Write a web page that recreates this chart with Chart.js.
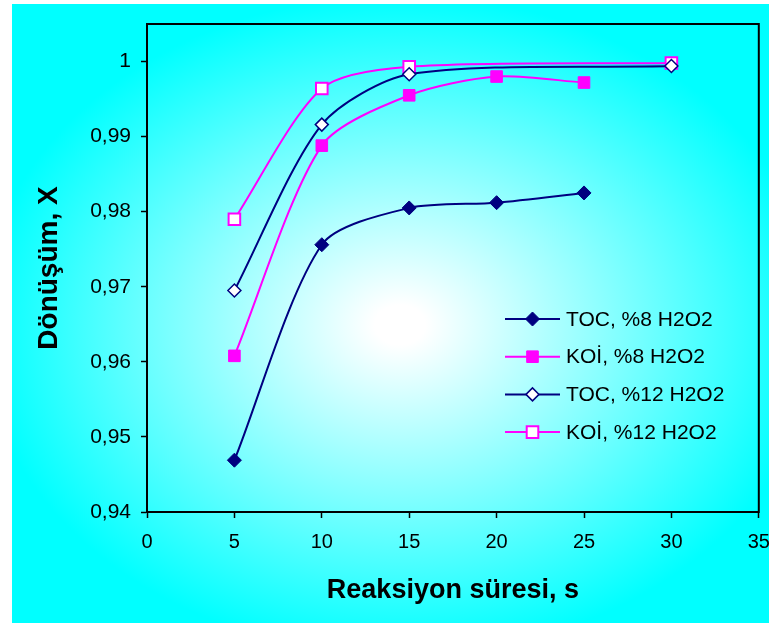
<!DOCTYPE html>
<html>
<head>
<meta charset="utf-8">
<script src="https://cdn.jsdelivr.net/npm/chart.js@4/dist/chart.umd.min.js"></script>
<style>
  html, body { margin: 0; padding: 0; background: #fff; }
  canvas { display: block; }
</style>
</head>
<body>
<canvas id="chart" width="769" height="623"></canvas>
<script>
// values
const seriesLabels = ["TOC, %8 H2O2", "KOİ, %8 H2O2", "TOC, %12 H2O2", "KOİ, %12 H2O2"];
const times8 = [5, 10, 15, 20, 25];
const times12 = [5, 10, 15, 30];
const toc8 = [0.9469, 0.9756, 0.9805, 0.9812, 0.9825];
const koi8 = [0.9608, 0.9888, 0.9955, 0.998, 0.9972];
const toc12 = [0.9695, 0.9916, 0.9983, 0.9994];
const koi12 = [0.979, 0.9964, 0.9993, 0.9998];
const xTitle = "Reaksiyon süresi, s";
const yTitle = "Dönüşüm, X";

const NAVY = "#000080";
const MAGENTA = "#ff00ff";
const FONT = "'Liberation Sans', Arial, sans-serif";

Chart.defaults.font.family = FONT;
Chart.defaults.color = "#000";

function points(xs, ys) {
  return xs.map((x, i) => ({ x, y: ys[i] }));
}

function formatTick(value) {
  return String(Number(value.toFixed(2))).replace(".", ",");
}

// white frame + elliptical gradient behind everything
const backdrop = {
  id: "backdrop",
  beforeDraw(chart) {
    const { ctx, width, height } = chart;
    ctx.save();
    ctx.fillStyle = "#fff";
    ctx.fillRect(0, 0, width, height);
    const cx = 400;
    const cy = 325;
    const rx = 420;
    const ry = 330;
    ctx.translate(cx, cy);
    ctx.scale(1, ry / rx);
    const grad = ctx.createRadialGradient(0, 0, 0, 0, 0, rx);
    grad.addColorStop(0, "#ffffff");
    grad.addColorStop(0.06, "#ffffff");
    grad.addColorStop(1, "#00ffff");
    ctx.fillStyle = grad;
    const k = rx / ry;
    ctx.fillRect(12 - cx, (4 - cy) * k, width - 12, (height - 4) * k);
    ctx.restore();
  },
};

// black box round the plot area
const plotFrame = {
  id: "plotFrame",
  beforeDatasetsDraw(chart) {
    const { ctx, chartArea: a } = chart;
    ctx.save();
    ctx.strokeStyle = "#000";
    ctx.lineWidth = 2;
    ctx.strokeRect(a.left, a.top, a.right - a.left, a.bottom - a.top);
    ctx.restore();
  },
};

// Excel-style legend: line with marker in the middle
const lineLegend = {
  id: "lineLegend",
  afterDraw(chart) {
    const { ctx } = chart;
    const x0 = 505;
    const x1 = 560;
    const y0 = 319;
    const gap = 37.7;
    ctx.save();
    chart.data.datasets.forEach((ds, i) => {
      const y = y0 + i * gap;
      ctx.strokeStyle = ds.borderColor;
      ctx.lineWidth = 2;
      ctx.beginPath();
      ctx.moveTo(x0, y);
      ctx.lineTo(x1, y);
      ctx.stroke();
      ctx.fillStyle = ds.pointBackgroundColor;
      ctx.strokeStyle = ds.pointBorderColor;
      ctx.lineWidth = ds.pointBorderWidth;
      Chart.helpers.drawPoint(ctx, {
        pointStyle: ds.pointStyle,
        radius: ds.pointRadius,
        borderWidth: ds.pointBorderWidth,
        rotation: 0,
      }, (x0 + x1) / 2, y);
      ctx.fillStyle = "#000";
      ctx.font = "21px " + FONT;
      ctx.textAlign = "left";
      ctx.textBaseline = "middle";
      ctx.fillText(ds.label, x1 + 6, y + 1);
    });
    ctx.restore();
  },
};

function series(label, data, color, style, radius, fill, borderWidth) {
  return {
    label,
    data,
    borderColor: color,
    borderWidth: 2,
    tension: 0.27,
    pointStyle: style,
    pointRadius: radius,
    pointHoverRadius: radius,
    pointBackgroundColor: fill,
    pointBorderColor: color,
    pointBorderWidth: borderWidth,
  };
}

new Chart(document.getElementById("chart"), {
  type: "line",
  data: {
    datasets: [
      series(seriesLabels[0], points(times8, toc8), NAVY, "rectRot", 7, NAVY, 1),
      series(seriesLabels[1], points(times8, koi8), MAGENTA, "rect", 8.2, MAGENTA, 1),
      series(seriesLabels[2], points(times12, toc12), NAVY, "rectRot", 6.5, "#fff", 1.5),
      series(seriesLabels[3], points(times12, koi12), MAGENTA, "rect", 8.2, "#fff", 2),
    ],
  },
  options: {
    responsive: false,
    animation: false,
    events: [],
    layout: { padding: { left: 32, top: 24, right: 9, bottom: 16 } },
    plugins: { legend: { display: false }, tooltip: { enabled: false } },
    scales: {
      x: {
        type: "linear",
        min: 0,
        max: 35,
        ticks: { stepSize: 5, padding: 12, font: { size: 20 }, color: "#000", maxRotation: 0 },
        grid: { drawOnChartArea: false, drawTicks: true, tickLength: 6, color: "#000", tickWidth: 1.5 },
        border: { display: true, color: "#000", width: 2 },
        title: { display: true, text: xTitle, font: { size: 27, weight: "bold" }, color: "#000", padding: { top: 0, bottom: 0 } },
        afterFit(scale) {
          scale.height = 95;
          scale.paddingLeft = 0;
          scale.paddingRight = 0;
        },
      },
      y: {
        min: 0.94,
        max: 1.005,
        ticks: { stepSize: 0.01, padding: 10, font: { size: 21 }, color: "#000", callback: formatTick },
        afterBuildTicks(scale) {
          scale.ticks = scale.ticks.filter((t) => Math.abs(t.value * 100 - Math.round(t.value * 100)) < 1e-6);
        },
        grid: { drawOnChartArea: false, drawTicks: true, tickLength: 6, color: "#000", tickWidth: 1.5 },
        border: { display: true, color: "#000", width: 2 },
        title: { display: true, text: yTitle, font: { size: 28, weight: "bold" }, color: "#000", padding: { top: 0, bottom: 0 } },
        afterFit(scale) {
          scale.width = 115;
          scale.paddingTop = 0;
          scale.paddingBottom = 0;
        },
      },
    },
  },
  plugins: [backdrop, plotFrame, lineLegend],
});
</script>
</body>
</html>
